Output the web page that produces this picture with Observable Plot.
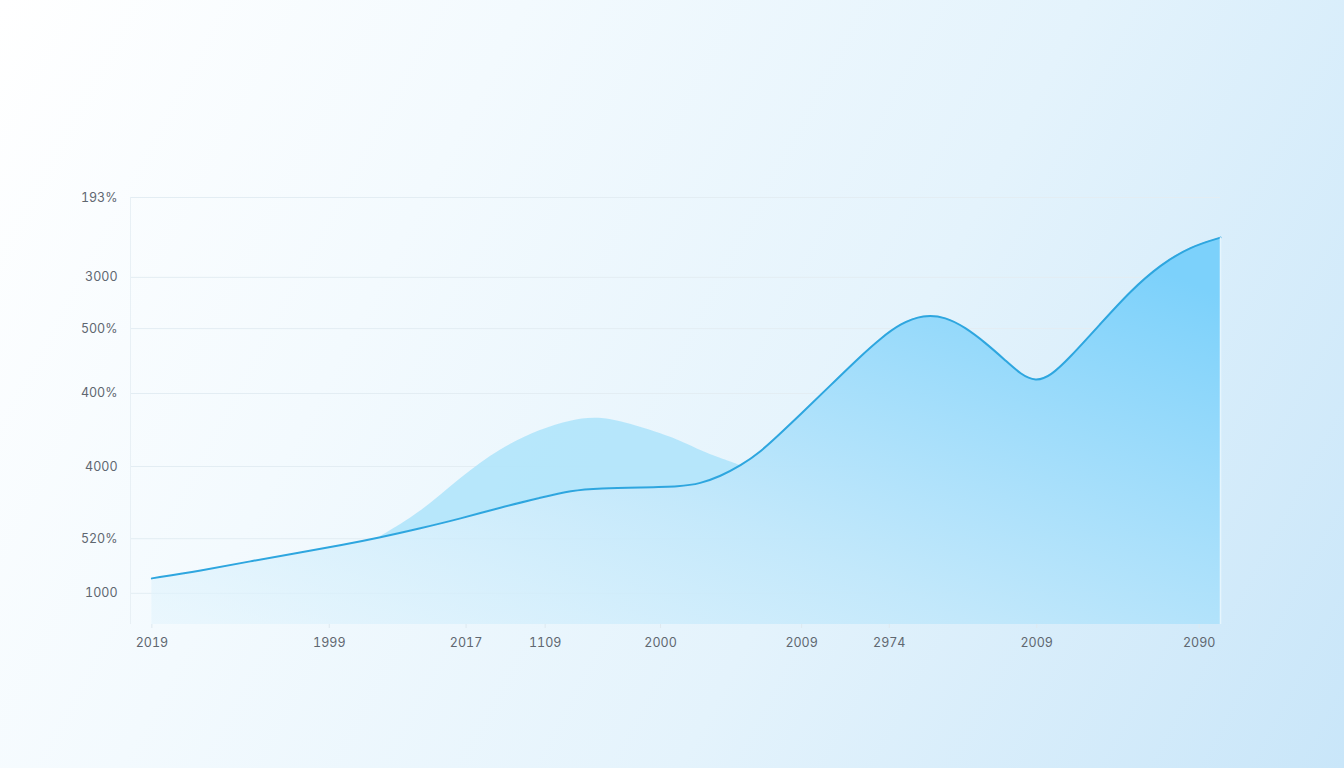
<!DOCTYPE html>
<html>
<head>
<meta charset="utf-8">
<script src="https://cdn.jsdelivr.net/npm/d3@7"></script>
<script src="https://cdn.jsdelivr.net/npm/@observablehq/plot@0.6"></script>
<style>
  html, body { margin: 0; padding: 0; }
  body {
    width: 1344px; height: 768px; overflow: hidden;
    background: linear-gradient(118deg, #ffffff 0%, #f3fafe 30%, #e4f3fc 62%, #c9e6f9 100%);
  }
  #chart svg { display: block; }
</style>
</head>
<body>
<div id="chart"></div>
<script>
// Main series (position index, value level)
const mainX = [0, 4.55, 9.2, 13.9, 17.6, 21.4, 25.1, 28.9, 32.6, 36.4, 39.2, 42.0, 45.7, 49.5, 51.3, 53.2, 55.1, 56.9, 58.8, 60.7, 63.5, 66.3, 68.2, 70.0, 72.2, 74.3, 76.1, 78.0, 79.9, 81.3, 82.7, 84.1, 85.9, 88.8, 91.6, 94.4, 97.2, 100];
const mainY = [10.8, 12.6, 14.8, 16.9, 18.5, 20.4, 22.5, 24.8, 27.4, 29.7, 31.4, 31.9, 32.1, 32.3, 33.0, 34.7, 37.2, 40.3, 44.7, 49.2, 56.0, 62.8, 67.0, 70.4, 72.6, 72.0, 69.6, 66.0, 61.8, 58.6, 56.9, 58.2, 62.5, 70.5, 78.2, 84.3, 88.5, 90.6];

// Secondary bump series (upper edge), over the same positions
const bumpX = [21.4, 25.1, 28.9, 32.6, 36.4, 39.2, 42.0, 45.7, 49.5, 51.3, 53.2, 55.1];
const bumpLower = [20.4, 22.5, 24.8, 27.4, 29.7, 31.4, 31.9, 32.1, 32.3, 33.0, 34.7, 37.2];
const bumpUpper = [20.6, 26.0, 34.4, 41.2, 45.7, 47.8, 48.8, 46.3, 43.1, 40.7, 38.9, 37.2];

// Tick labels
const yTickValues = [100, 81.3, 69.3, 54.1, 37.0, 20.1, 7.3];
const yTickLabels = ["193%", "3000", "500%", "400%", "4000", "520%", "1000"];
const xTickValues = [0, 16.6, 29.4, 36.8, 47.6, 60.8, 69.0, 82.8, 98.0];
const xTickLabels = ["2019", "1999", "2017", "1109", "2000", "2009", "2974", "2009", "2090"];

const main = mainX.map((x, i) => ({x, y: mainY[i]}));
const bump = bumpX.map((x, i) => ({x, y1: bumpLower[i], y2: bumpUpper[i]}));

const plot = Plot.plot({
  width: 1344,
  height: 768,
  marginLeft: 130,
  marginRight: 124,
  marginTop: 197,
  marginBottom: 144,
  style: {background: "transparent", fontFamily: "Inter, 'Open Sans', sans-serif", fontSize: "12.5px", color: "#5f6770"},
  x: {domain: [-2, 100], label: null},
  y: {domain: [0, 100], label: null},
  marks: [
    Plot.ruleY(yTickValues, {stroke: "#e3edf3", strokeWidth: 1}),
    Plot.ruleX([-2], {y1: 0, y2: 100, stroke: "#e8f0f5"}),
    Plot.areaY(main, {x: "x", y: "y", curve: "basis", fill: "url(#mainGrad)"}),
    Plot.areaY(bump, {x: "x", y1: "y1", y2: "y2", curve: "basis", fill: "#b0e4fb", fillOpacity: 0.9}),
    Plot.lineY(main, {x: "x", y: "y", curve: "basis", stroke: "#2ea6df", strokeWidth: 2}),
    Plot.ruleX([100], {y1: 0, y2: 90.6, stroke: "#e6f5fd", strokeWidth: 1.5}),
    Plot.axisY({ticks: yTickValues, tickFormat: (d, i) => yTickLabels[i], tickSize: 0, tickPadding: 13, textAnchor: "end", label: null}),
    Plot.axisX({ticks: xTickValues, tickFormat: (d, i) => xTickLabels[i], tickSize: 4, stroke: "#dde8ef", tickPadding: 10, label: null})
  ]
});

const ns = "http://www.w3.org/2000/svg";
const defs = document.createElementNS(ns, "defs");
defs.innerHTML = `
  <linearGradient id="mainGrad" x1="0" y1="1" x2="1" y2="0.15">
    <stop offset="0%" stop-color="#e2f4fd" stop-opacity="0.55"/>
    <stop offset="45%" stop-color="#bfe7fb" stop-opacity="0.9"/>
    <stop offset="100%" stop-color="#7cd1fb" stop-opacity="1"/>
  </linearGradient>`;
plot.insertBefore(defs, plot.firstChild);
document.getElementById("chart").appendChild(plot);
</script>
</body>
</html>
